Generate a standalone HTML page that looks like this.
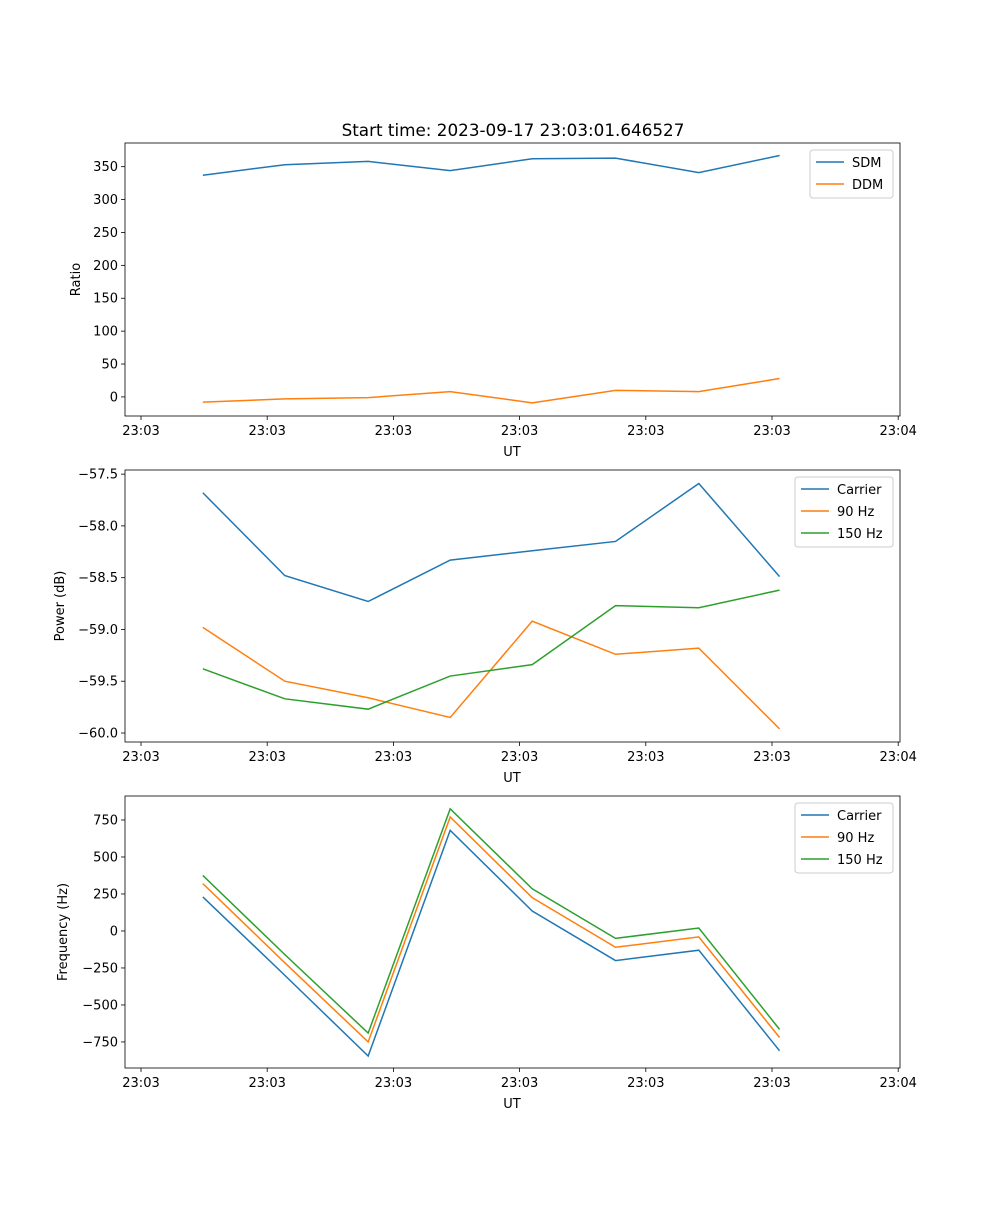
<!DOCTYPE html>
<html><head><meta charset="utf-8"><style>
body{margin:0;background:#fff;}
svg text{font-family:"DejaVu Sans","Liberation Sans",sans-serif;font-size:13px;fill:#000;}
</style></head><body>
<svg id="chart" width="1000" height="1200" xmlns="http://www.w3.org/2000/svg">
<text x="513" y="136" text-anchor="middle" style="font-size:16.8px">Start time: 2023-09-17 23:03:01.646527</text>
</svg>
<script>
const times=[0.49,1.14,1.80,2.45,3.10,3.76,4.42,5.06];
const xTicks=[0,1,2,3,4,5,6];
const xTickLabels=["23:03","23:03","23:03","23:03","23:03","23:03","23:04"];
const sdm=[337,353,358,344,362,363,341,367];
const ddm=[-8,-3,-1,8,-9,10,8,28];
const pCarrier=[-57.68,-58.48,-58.73,-58.33,-58.24,-58.15,-57.59,-58.49];
const p90=[-58.98,-59.50,-59.66,-59.85,-58.92,-59.24,-59.18,-59.96];
const p150=[-59.38,-59.67,-59.77,-59.45,-59.34,-58.77,-58.79,-58.62];
const fCarrier=[230,-300,-845,680,135,-200,-130,-810];
const f90=[320,-215,-750,770,225,-110,-40,-720];
const f150=[375,-160,-690,825,285,-50,20,-665];
const ticks1=[0,50,100,150,200,250,300,350];
const ticks2=[-60.0,-59.5,-59.0,-58.5,-58.0,-57.5];
const ticks3=[-750,-500,-250,0,250,500,750];

const NS="http://www.w3.org/2000/svg";
const svg=document.getElementById('chart');
function mk(tag,attrs,parent){const e=document.createElementNS(NS,tag);for(const k in attrs)e.setAttribute(k,attrs[k]);(parent||svg).appendChild(e);return e;}
const C=["#1f77b4","#ff7f0e","#2ca02c"];
const L=125,R=900;
const xs=t=>141+t*126.2;

function panel(id,top,bot,ymin,ymax,yt,fmt,ylabel,series,names,legW,legX){
  const g=mk('g',{});
  
  
  const ys=v=>bot-(v-ymin)/(ymax-ymin)*(bot-top);
  series.forEach((s,i)=>{
    const p=mk('polyline',{points:s.map((v,j)=>xs(times[j])+','+ys(v)).join(' '),fill:'none',stroke:C[i],'stroke-width':1.5},g);
    
    
  });
  const fr=mk('rect',{x:L,y:top,width:R-L,height:bot-top,fill:'none',stroke:'#000','stroke-width':0.8},g);
  
  
  xTicks.forEach((t,i)=>{
    mk('line',{x1:xs(t),x2:xs(t),y1:bot,y2:bot+4,stroke:'#000','stroke-width':0.8},g);
    const tx=mk('text',{x:xs(t),y:bot+19,'text-anchor':'middle'},g);tx.textContent=xTickLabels[i];
    
    
  });
  yt.forEach(v=>{
    mk('line',{x1:L-4,x2:L,y1:ys(v),y2:ys(v),stroke:'#000','stroke-width':0.8},g);
    const tx=mk('text',{x:L-7,y:ys(v)+4.5,'text-anchor':'end'},g);tx.textContent=fmt(v);
    
    
  });
  const xl=mk('text',{x:512,y:bot+40,'text-anchor':'middle'},g);xl.textContent='UT';
  
  
  const yl=mk('text',{x:0,y:0,'text-anchor':'middle',transform:`translate(${ylabel[1]},${(top+bot)/2}) rotate(-90)`},g);yl.textContent=ylabel[0];
  
  
  const lg=mk('g',{},g);
  
  
  const lh=names.length*22+4;
  mk('rect',{x:legX,y:top+7,width:legW,height:lh,rx:3,fill:'#fff',stroke:'#ccc'},lg);
  names.forEach((n,i)=>{
    const yy=top+19+i*22;
    mk('line',{x1:legX+6,x2:legX+34,y1:yy,y2:yy,stroke:C[i],'stroke-width':1.5},lg);
    const t=mk('text',{x:legX+42,y:yy+5},lg);t.textContent=n;
    
    
  });
}
panel('ratio-panel',143,416,-29,386,ticks1,v=>String(v),['Ratio',80],[sdm,ddm],['SDM','DDM'],83,810);
panel('power-panel',470,742,-60.087,-57.46,ticks2,v=>'\u2212'+Math.abs(v).toFixed(1),['Power (dB)',64],[pCarrier,p90,p150],['Carrier','90 Hz','150 Hz'],98,795);
panel('frequency-panel',796,1068,-926,912,ticks3,v=>(v<0?'\u2212':'')+Math.abs(v),['Frequency (Hz)',67],[fCarrier,f90,f150],['Carrier','90 Hz','150 Hz'],98,795);
</script>
</body></html>
